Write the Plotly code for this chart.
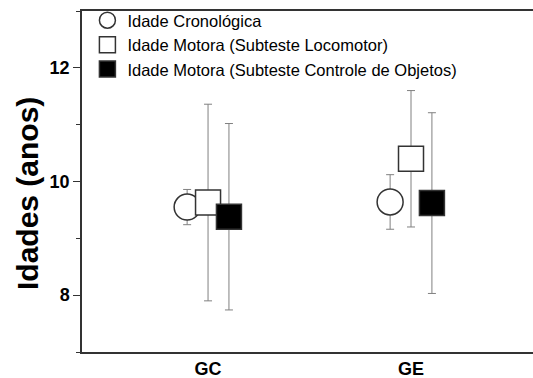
import plotly.graph_objects as go

groups = ["GC", "GE"]
group_pos = [1, 2]
series_names = ["Idade Cronológica",
                "Idade Motora (Subteste Locomotor)",
                "Idade Motora (Subteste Controle de Objetos)"]
cron_mean = [9.55, 9.64]
cron_err = [0.31, 0.48]
loco_mean = [9.63, 10.40]
loco_err = [1.73, 1.20]
obj_mean = [9.38, 9.62]
obj_err = [1.64, 1.59]

offsets = [-0.103, 0.0, 0.103]
means = [cron_mean, loco_mean, obj_mean]
errs = [cron_err, loco_err, obj_err]
symbols = ["circle", "square", "square"]
fills = ["white", "white", "black"]
sizes = [26, 25, 25]

FONT = "Liberation Sans, Arial, sans-serif"

fig = go.Figure()
for name, m, e, off, sym, fc, sz in zip(series_names, means, errs, offsets, symbols, fills, sizes):
    fig.add_trace(go.Scatter(
        x=[p + off for p in group_pos], y=m, name=name, mode="markers",
        marker=dict(symbol=sym, size=sz, color=fc, line=dict(color="#333333", width=1.5)),
        error_y=dict(type="data", array=e, visible=True, color="#808080", thickness=1, width=4),
    ))

fig.add_annotation(text="Idades (anos)", textangle=-90, xref="paper", yref="paper",
                   x=-0.1208, y=0.4648, xanchor="center", yanchor="middle", showarrow=False,
                   font=dict(family=FONT, size=30, weight="bold", color="black"))

fig.update_layout(
    width=533, height=378,
    margin=dict(l=82, r=0, t=11, b=26),
    plot_bgcolor="white", paper_bgcolor="white",
    font=dict(family=FONT, color="black"),
    showlegend=True,
    legend=dict(x=0.012, y=1.0235, xanchor="left", yanchor="top",
                font=dict(family=FONT, size=16.5, color="black"),
                bgcolor="rgba(0,0,0,0)", itemclick=False),
    xaxis=dict(range=[0.379, 2.601], tickvals=group_pos, ticktext=groups,
               showline=True, linecolor="#333333", linewidth=1.5, mirror=True,
               ticks="", showgrid=False, zeroline=False,
               tickfont=dict(family=FONT, size=18, weight="bold")),
    yaxis=dict(range=[7, 13], tickvals=[8, 10, 12], ticks="outside", ticklen=7,
               tickcolor="#333333", tickwidth=1,
               minor=dict(dtick=1, ticks="outside", ticklen=4, tickcolor="#333333", showgrid=False),
               showline=True, linecolor="#333333", linewidth=1.5,
               showgrid=False, zeroline=False,
               tickfont=dict(family=FONT, size=18, weight="bold")),
)

fig.write_html("out.html")
